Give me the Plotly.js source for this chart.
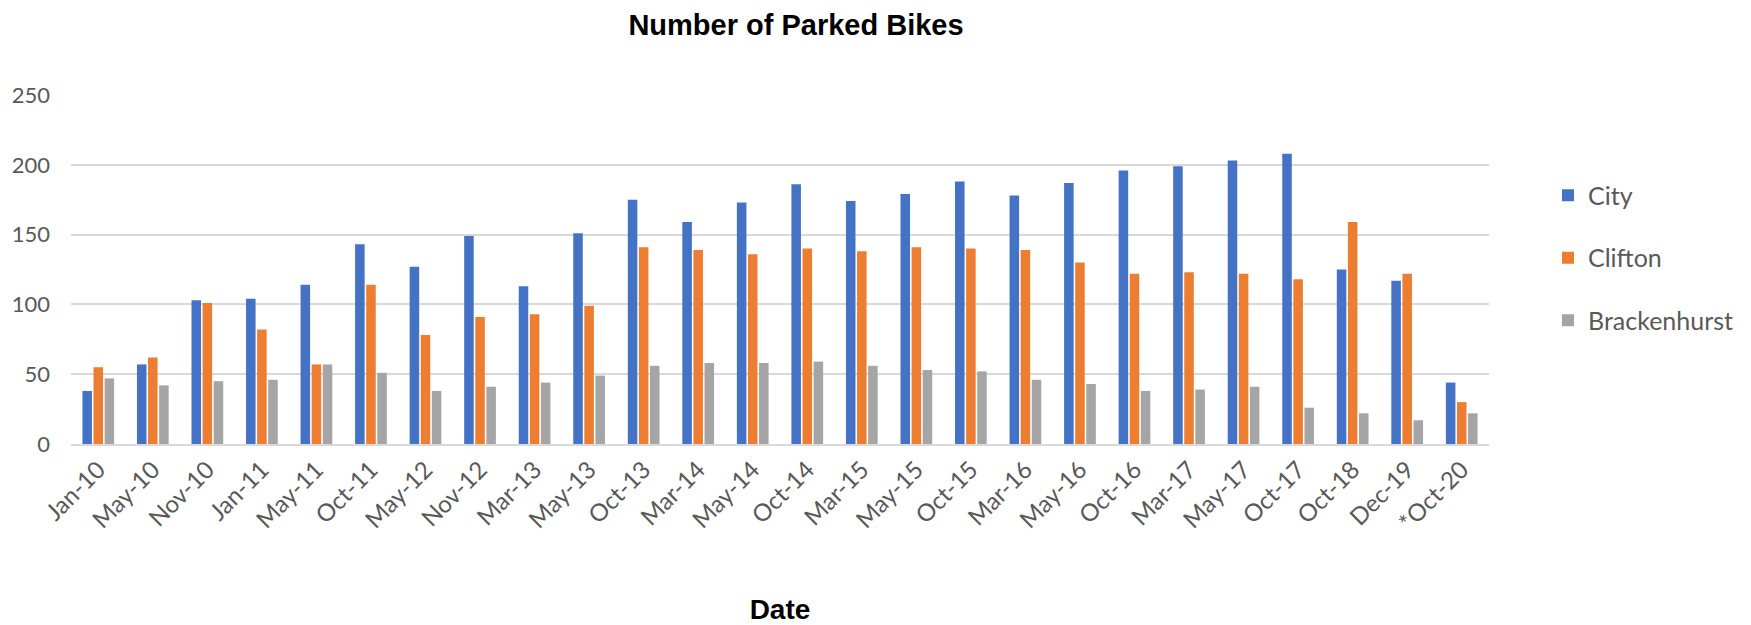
<!DOCTYPE html>
<html>
<head>
<meta charset="utf-8">
<script src="https://cdn.plot.ly/plotly-3.0.1.min.js"></script>
<style>html,body{margin:0;padding:0;background:#fff;}#chart{width:1751px;height:625px;}</style>
</head>
<body>
<div id="chart"></div>
<script>
const dates = ["Jan-10","May-10","Nov-10","Jan-11","May-11","Oct-11","May-12","Nov-12","Mar-13","May-13","Oct-13","Mar-14","May-14","Oct-14","Mar-15","May-15","Oct-15","Mar-16","May-16","Oct-16","Mar-17","May-17","Oct-17","Oct-18","Dec-19","*Oct-20"];
const city = [38,57,103,104,114,143,127,149,113,151,175,159,173,186,174,179,188,178,187,196,199,203,208,125,117,44];
const clifton = [55,62,101,82,57,114,78,91,93,99,141,139,136,140,138,141,140,139,130,122,123,122,118,159,122,30];
const brackenhurst = [47,42,45,46,57,51,38,41,44,49,56,58,58,59,56,53,52,46,43,38,39,41,26,22,17,22];
const yTicks = [0,50,100,150,200,250];

const series = [
  {name: "City", y: city, color: "#4472C4"},
  {name: "Clifton", y: clifton, color: "#ED7D31"},
  {name: "Brackenhurst", y: brackenhurst, color: "#A5A5A5"}
];

const traces = series.map(s => ({
  type: "bar",
  name: s.name,
  x: dates,
  y: s.y,
  legendgroup: s.name,
  marker: {color: s.color, line: {width: 0}}
}));

const fontFamily = "Lato, 'Open Sans', sans-serif";

const layout = {
  width: 1751,
  height: 625,
  paper_bgcolor: "#ffffff",
  plot_bgcolor: "#ffffff",
  margin: {l: 71, r: 262, t: 95, b: 181},
  barmode: "group",
  bargap: 0.39,
  bargroupgap: 0.14,
  showlegend: true,
  title: {
    text: "Number of Parked Bikes",
    font: {family: "'Liberation Sans', Arial, sans-serif", size: 29, color: "#000000", weight: "bold"},
    x: 0.4546, xref: "container", xanchor: "center",
    y: 0.96, yref: "container", yanchor: "middle"
  },
  xaxis: {
    type: "category",
    tickangle: -45,
    tickfont: {family: fontFamily, size: 24, color: "#595959"},
    showgrid: false,
    showline: true,
    linecolor: "#D9D9D9",
    linewidth: 2,
    ticks: "",
    automargin: false,
    title: {
      text: "Date",
      font: {family: "'Liberation Sans', Arial, sans-serif", size: 28, color: "#000000", weight: "bold"},
      standoff: 90
    }
  },
  yaxis: {
    range: [0, 250],
    tickvals: yTicks,
    ticktext: yTicks.map(String),
    tickfont: {family: fontFamily, size: 22, color: "#595959"},
    showgrid: true,
    gridcolor: "#D9D9D9",
    gridwidth: 1.5,
    zeroline: false,
    showline: false,
    ticks: "",
    ticklabelstandoff: 20,
    automargin: false,
    fixedrange: true
  },
  legend: {
    x: 1.0416, xanchor: "left",
    y: 0.533, yanchor: "middle",
    traceorder: "grouped",
    tracegroupgap: 27,
    font: {family: fontFamily, size: 25, color: "#595959"},
    bgcolor: "rgba(0,0,0,0)"
  }
};

Plotly.newPlot("chart", traces, layout, {displayModeBar: false, responsive: false});
</script>
</body>
</html>
